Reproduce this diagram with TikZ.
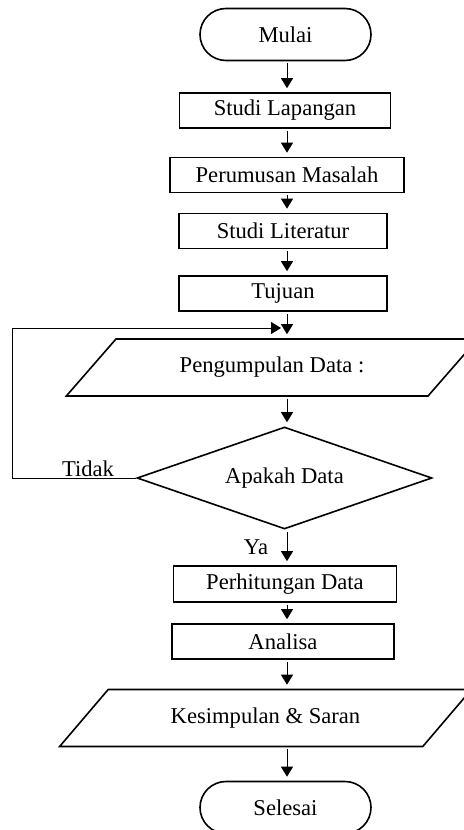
\documentclass[tikz,border=0pt]{standalone}
\usepackage{fontspec}
\setmainfont{Liberation Serif}
\usetikzlibrary{shapes.geometric,arrows.meta}

\begin{document}
\begin{tikzpicture}[x=0.5pt,y=-0.5pt,
    every node/.style={font=\fontsize{11.3}{13}\selectfont},
    terminal/.style={draw,line width=0.8pt,rounded corners=13pt,minimum width=85.5pt,minimum height=26pt,inner sep=0pt},
    proses/.style={draw,line width=0.8pt,minimum height=17.5pt,inner sep=0pt},
    datain/.style={draw,line width=0.8pt,trapezium,trapezium left angle=35,trapezium right angle=145,trapezium stretches=true,minimum width=206pt,minimum height=28.5pt,inner sep=0pt},
    keputusan/.style={draw,line width=0.8pt,diamond,shape aspect=2.9,minimum width=147.5pt,minimum height=51pt,inner sep=0pt},
    panah/.style={line width=0.5pt,-{Triangle[length=5pt,width=6pt]},shorten >=2pt,shorten <=1pt}]
    \useasboundingbox (0,0) rectangle (464,830);
    % column of the arrows
    \coordinate (kolom) at (287,0);
    % Start and the first steps
    \node[terminal] (mulai) at (285.5,34.5) {Mulai};
    \node[proses,minimum width=105.5pt] (lapangan) at (285,110.5) {Studi Lapangan};
    \node[proses,minimum width=117pt] (rumusan) at (287,175) {Perumusan Masalah};
    \node[proses,minimum width=104pt] (literatur) at (283,231) {Studi Literatur};
    \node[proses,minimum width=104pt] (tujuan) at (283,293.5) {Tujuan};
    % Data collection and the check
    \node[datain] (kumpul) at (272,367.5) {Pengumpulan Data :};
    \node[keputusan] (cek) at (284.5,478) {Apakah Data};
    % Processing and the end
    \node[proses,minimum width=111.5pt,minimum height=18pt] (hitung) at (285,584) {Perhitungan Data};
    \node[proses,minimum width=111pt] (analisa) at (283,641.5) {Analisa};
    \node[datain] (simpul) at (265.5,718) {Kesimpulan \& Saran};
    \node[terminal] (selesai) at (285.5,807.5) {Selesai};
    % Labels of the check
    \node (tidak) at (88,469) {Tidak};
    \node (ya) at (256,547) {Ya};
    % Arrows down the chart
    \draw[panah] (mulai.south -| kolom) -- (lapangan.north -| kolom);
    \draw[panah] (lapangan.south -| kolom) -- (rumusan.north -| kolom);
    \draw[panah] (rumusan.south -| kolom) -- (literatur.north -| kolom);
    \draw[panah] (literatur.south -| kolom) -- (tujuan.north -| kolom);
    \draw[panah] (tujuan.south -| kolom) -- (kumpul.north -| kolom);
    \draw[panah] (kumpul.south -| kolom) -- (cek.north -| kolom);
    \draw[panah] (cek.south -| kolom) -- (hitung.north -| kolom);
    \draw[panah] (hitung.south -| kolom) -- (analisa.north -| kolom);
    \draw[panah] (analisa.south -| kolom) -- (simpul.north -| kolom);
    \draw[panah] (simpul.south -| kolom) -- (selesai.north -| kolom);
    % Loop back when the data is not complete
    \coordinate (balik) at (281,328);
    \draw[line width=0.5pt,-{Triangle[length=5pt,width=6pt]}] (cek.west) -- ++(-124,0) |- (balik);
\end{tikzpicture}
\end{document}
